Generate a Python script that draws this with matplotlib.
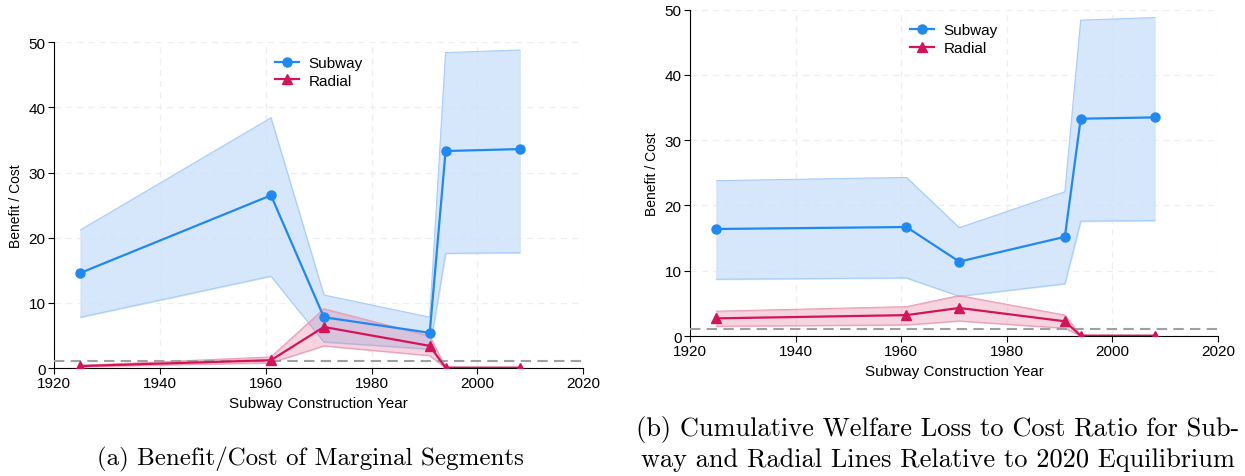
import matplotlib.pyplot as plt
from matplotlib import font_manager

years = [1925, 1961, 1971, 1991, 1994, 2008]

# Panel (a): benefit/cost of marginal segments
a_subway = [14.6, 26.5, 7.8, 5.4, 33.3, 33.6]
a_subway_hi = [21.2, 38.4, 11.2, 7.8, 48.4, 48.8]
a_subway_lo = [7.8, 14.1, 4.0, 2.9, 17.6, 17.7]
a_radial = [0.3, 1.2, 6.3, 3.4, 0.05, 0.05]
a_radial_hi = [0.4, 1.7, 9.1, 4.9, 0.1, 0.05]
a_radial_lo = [0.2, 0.8, 3.4, 1.9, 0.0, 0.0]

# Panel (b): cumulative welfare loss to cost ratio
b_subway = [16.4, 16.7, 11.4, 15.2, 33.3, 33.5]
b_subway_hi = [23.8, 24.3, 16.6, 22.1, 48.4, 48.8]
b_subway_lo = [8.7, 8.9, 6.1, 8.0, 17.6, 17.7]
b_radial = [2.7, 3.2, 4.3, 2.25, 0.05, 0.05]
b_radial_hi = [3.8, 4.5, 6.2, 3.2, 0.1, 0.05]
b_radial_lo = [1.5, 1.7, 2.3, 1.2, 0.0, 0.0]

captions = ["(a) Benefit/Cost of Marginal Segments",
            "(b) Cumulative Welfare Loss to Cost Ratio for Sub-\nway and Radial Lines Relative to 2020 Equilibrium"]

names = {f.name for f in font_manager.fontManager.ttflist}
sans = "Liberation Sans Narrow" if "Liberation Sans Narrow" in names else "Liberation Sans"
plt.rcParams["font.family"] = sans

BLUE = "#1f88f2"
RED = "#d4145a"

fig = plt.figure(figsize=(12.45, 4.77), dpi=100)
ax1 = fig.add_axes([0.0434, 0.2264, 0.425, 0.683])
ax2 = fig.add_axes([0.5542, 0.2935, 0.4241, 0.684])

panels = [
    (ax1, a_subway, a_subway_lo, a_subway_hi, a_radial, a_radial_lo, a_radial_hi),
    (ax2, b_subway, b_subway_lo, b_subway_hi, b_radial, b_radial_lo, b_radial_hi),
]

for ax, s, slo, shi, r, rlo, rhi in panels:
    ax.fill_between(years, slo, shi, color="#cfe3fb", alpha=0.85, zorder=1)
    ax.plot(years, shi, color="#a9cdf7", lw=0.8, zorder=1.5)
    ax.plot(years, slo, color="#a9cdf7", lw=0.8, zorder=1.5)
    ax.fill_between(years, rlo, rhi, color="#e0668f", alpha=0.28, zorder=2)
    ax.plot(years, rhi, color="#eaa0b8", lw=0.8, zorder=2.5)
    ax.plot(years, rlo, color="#eaa0b8", lw=0.8, zorder=2.5)
    ax.axhline(1, color="#a0a0a0", lw=1.5, ls=(0, (5, 3)), zorder=2.7)
    ax.plot(years, s, color=BLUE, lw=1.6, marker="o", ms=6.5, label="Subway", zorder=4)
    ax.plot(years, r, color=RED, lw=1.6, marker="^", ms=6.5, label="Radial", zorder=3)

    ax.set_xlim(1920, 2020)
    ax.set_ylim(0, 50)
    ax.set_xticks(range(1920, 2021, 20))
    ax.set_yticks(range(0, 51, 10))
    ax.grid(True, color="#efefef", ls=(0, (5, 4)), lw=0.9, zorder=0)
    ax.set_axisbelow(True)
    ax.spines["top"].set_visible(False)
    ax.spines["right"].set_visible(False)
    ax.tick_params(labelsize=11, length=4, width=0.8, pad=2)
    ax.set_xlabel("Subway Construction Year", fontsize=11)
    ax.set_ylabel("Benefit / Cost", fontsize=10, labelpad=4)
    ax.legend(loc="upper center", bbox_to_anchor=(0.5, 1.0), frameon=False,
              fontsize=11, handlelength=1.6, handletextpad=0.6, labelspacing=0.25)

fig.text(0.249, 0.025, captions[0], ha="center", va="baseline",
         family="cmr10", fontsize=18)
fig.text(0.753, 0.022, captions[1], ha="center", va="baseline",
         family="cmr10", fontsize=19, linespacing=1.27)

fig.savefig("out.png", dpi=100)
